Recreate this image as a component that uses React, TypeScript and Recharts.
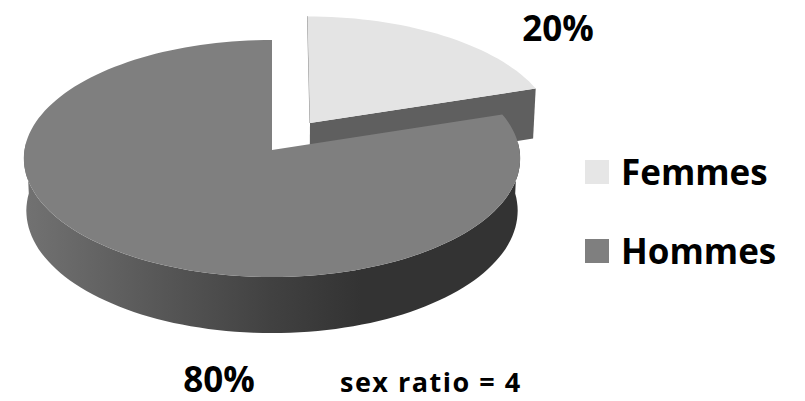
import React from "react";
import { PieChart, Pie, Cell, Legend } from "recharts";

const categories = ["Femmes", "Hommes"];
const values = [20, 80];
const note = "sex ratio = 4";

const COLORS = ["#e4e4e4", "#7f7f7f"];
const FONT = "'Open Sans', Lato, sans-serif";
const LABEL_POS = [
  { x: 558, y: 41 },
  { x: 219, y: 392 },
];

const chartData = categories.map((name, i) => ({ name, value: values[i] }));

// the perspective of the original 3D pie, all as ratios of the pie radius
const RX = 2.25;
const RY = 1.072;
const TILT = 0.0717;
const DEPTH = 0.473;
const BOTTOM_SHRINK = 0.99;
const EXPLODE_U = 0.156;
const EXPLODE_V = 0.233;

function makeProjector(cx: number, cy: number, r: number, exploded: boolean) {
  const u0 = exploded ? EXPLODE_U : 0;
  const v0 = exploded ? EXPLODE_V : 0;
  return (deg: number | null, bottom = false) => {
    const rad = (deg === null ? 0 : deg) * (Math.PI / 180);
    const u = u0 + (deg === null ? 0 : Math.sin(rad));
    const v = v0 + (deg === null ? 0 : Math.cos(rad));
    const d = 1 + TILT * v;
    const x = cx + (RX * r * u * (bottom ? BOTTOM_SHRINK : 1)) / d;
    const y = cy - (RY * r * v) / d + (bottom ? (DEPTH * r) / d : 0);
    return `${x.toFixed(1)} ${y.toFixed(1)}`;
  };
}

function sweep(from: number, to: number) {
  const out: number[] = [];
  for (let a = from; a < to; a += 2) out.push(a);
  out.push(to);
  return out;
}

function Sector3D(props: any) {
  const { cx, cy, outerRadius, startAngle, endAngle, fill, index } = props;
  // recharts angles run counter-clockwise from 3 o'clock, here clockwise from the top
  const a0 = 90 - startAngle;
  const a1 = 90 - endAngle;
  const exploded = index === 0;
  const p = makeProjector(cx, cy, outerRadius, exploded);
  const arc = sweep(a0, a1).map((a) => p(a));
  const top = `M${p(null)} L${arc.join(" L")} Z`;

  if (exploded) {
    const cut = `M${p(null)} L${p(a1)} L${p(a1, true)} L${p(null, true)} Z`;
    return (
      <g>
        <path d={cut} fill="#5f5f5f" />
        <path d={`M${p(null)} L${p(a0)}`} stroke="#8a8a8a" strokeWidth={1} fill="none" />
        <path d={top} fill={fill} />
      </g>
    );
  }

  const front = sweep(Math.max(a0, 86), Math.min(a1, 274));
  const wall =
    "M" +
    front.map((a) => p(a)).join(" L") +
    " L" +
    [...front].reverse().map((a) => p(a, true)).join(" L") +
    " Z";
  return (
    <g>
      <defs>
        <linearGradient id="wallShade" x1="0" y1="0" x2="1" y2="0">
          <stop offset="0" stopColor="#727272" />
          <stop offset="0.5" stopColor="#414141" />
          <stop offset="0.68" stopColor="#333333" />
          <stop offset="1" stopColor="#333333" />
        </linearGradient>
      </defs>
      <path d={wall} fill="url(#wallShade)" />
      <path d={top} fill={fill} />
    </g>
  );
}

function renderLabel({ index, percent }: any) {
  const pos = LABEL_POS[index];
  return (
    <text
      key={index}
      x={pos.x}
      y={pos.y}
      textAnchor="middle"
      fontFamily={FONT}
      fontWeight={700}
      fontSize={35}
      fill="#000"
    >
      {`${Math.round(percent * 100)}%`}
    </text>
  );
}

function LegendBlock() {
  return (
    <div style={{ fontFamily: FONT, fontWeight: 700, fontSize: 35, color: "#000" }}>
      {categories.map((name, i) => (
        <div key={name} style={{ display: "flex", alignItems: "center", height: 79 }}>
          <span style={{ width: 24, height: 24, background: i === 0 ? "#e6e6e6" : COLORS[i], marginRight: 12 }} />
          {name}
        </div>
      ))}
    </div>
  );
}

export default function App() {
  return (
    <div style={{ position: "absolute", left: 0, top: 0, width: 805, height: 401, background: "#fff", overflow: "hidden" }}>
      <PieChart width={805} height={401} margin={{ top: 0, right: 0, bottom: 0, left: 0 }}>
        <Pie
          data={chartData}
          dataKey="value"
          nameKey="name"
          cx={272}
          cy={150}
          outerRadius={110}
          startAngle={90}
          endAngle={-270}
          stroke="none"
          legendType="square"
          label={renderLabel}
          labelLine={false}
          shape={Sector3D}
          isAnimationActive={false}
        >
          {chartData.map((entry, i) => (
            <Cell key={entry.name} fill={COLORS[i]} />
          ))}
        </Pie>
        <Legend
          content={<LegendBlock />}
          wrapperStyle={{ position: "absolute", left: 585, top: 132, width: 220, bottom: "auto" }}
        />
      </PieChart>
      <div
        style={{
          position: "absolute",
          left: 340,
          top: 367,
          fontFamily: FONT,
          fontWeight: 700,
          fontSize: 27,
          letterSpacing: 1.5,
          lineHeight: "30px",
          color: "#000",
          whiteSpace: "nowrap",
        }}
      >
        {note}
      </div>
    </div>
  );
}
